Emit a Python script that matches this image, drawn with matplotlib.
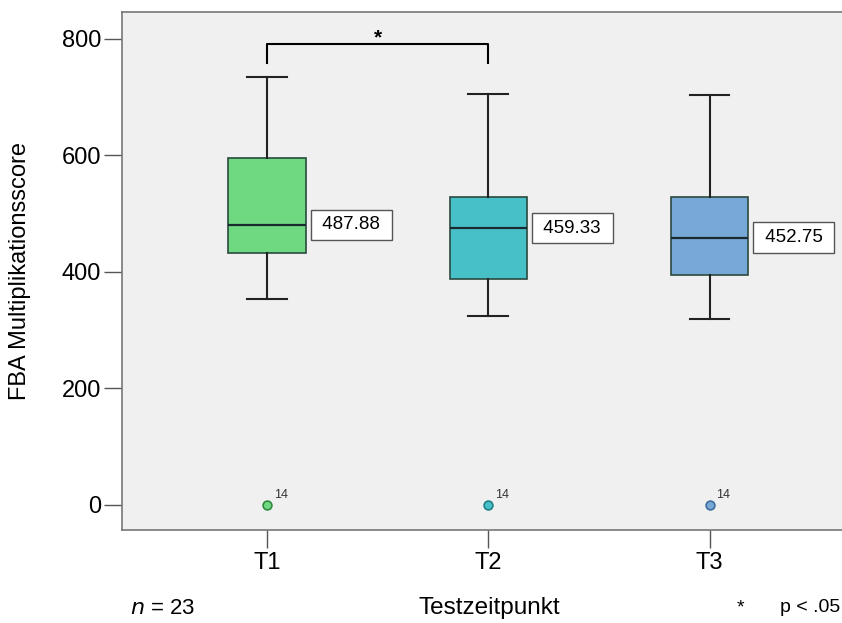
import matplotlib
matplotlib.use("Agg")
import matplotlib.pyplot as plt

plt.rcParams['font.family'] = ['Liberation Sans', 'DejaVu Sans']

# data
zeitpunkte = ["T1", "T2", "T3"]
q1 = [432, 388, 395]
median = [481, 475, 459]
q3 = [596, 528, 528]
whisker_lo = [354, 325, 319]
whisker_hi = [735, 706, 704]
ausreisser = [0, 0, 0]
ausreisser_id = ["14", "14", "14"]
mittelwert_label = ["487.88", "459.33", "452.75"]
farben = ["#6fd982", "#47c1c7", "#78a9d6"]
rand_farben = ["#2f8a40", "#1f7f86", "#3f6e9c"]

fig = plt.figure(figsize=(8.42, 6.23), dpi=100)
ax = fig.add_axes([0.1449, 0.1493, 0.856, 0.8314])
ax.set_facecolor("#f0f0f0")

stats = []
for i in range(3):
    stats.append(dict(med=median[i], q1=q1[i], q3=q3[i],
                      whislo=whisker_lo[i], whishi=whisker_hi[i],
                      fliers=[]))
pos = [1, 2, 3]
bp = ax.bxp(stats, positions=pos, widths=0.35, patch_artist=True,
            showfliers=False,
            medianprops=dict(color="#1a2a30", lw=1.6),
            whiskerprops=dict(color="#222222", lw=1.5),
            capprops=dict(color="#222222", lw=1.5),
            boxprops=dict(lw=1.2))
for patch, c in zip(bp['boxes'], farben):
    patch.set_facecolor(c)
    patch.set_edgecolor("#2a4a40")
for cap in bp['caps']:
    x = cap.get_xdata()
    m = (x[0] + x[1]) / 2
    cap.set_xdata([m - 0.09, m + 0.09])

for i in range(3):
    ax.scatter(pos[i], ausreisser[i], s=40, color=farben[i],
               edgecolor=rand_farben[i], lw=1.2, zorder=3)
    ax.annotate(ausreisser_id[i], (pos[i], ausreisser[i]),
                xytext=(5, 5), textcoords="offset points", fontsize=9,
                color="#333333")
    ax.annotate(" " + mittelwert_label[i] + " ", (pos[i], median[i]),
                xytext=(36, 0), textcoords="offset points", fontsize=13.5,
                va="center", ha="left",
                bbox=dict(boxstyle="square,pad=0.35", fc="white", ec="#555555", lw=1))

# significance bracket T1-T2
ax.plot([1, 1, 2, 2], [759, 791, 791, 759], color="black", lw=1.5)
ax.text(1.5, 802, "*", ha="center", va="center", fontsize=15, fontweight="bold")

ax.set_xlim(0.344, 3.602)
ax.set_ylim(-43, 846)
ax.set_xticks(pos)
ax.set_xticklabels(zeitpunkte, fontsize=17)
ax.set_yticks([0, 200, 400, 600, 800])
ax.tick_params(axis="y", labelsize=17, length=13, width=1, color="#555555", pad=2)
ax.tick_params(axis="x", length=13, width=1, color="#555555", pad=3)
ax.spines['right'].set_visible(False)
for s in ['left', 'top', 'bottom']:
    ax.spines[s].set_color("#777777")
    ax.spines[s].set_linewidth(1.2)

fig.text(20 / 842, 1 - 271 / 623, "FBA Multiplikationsscore", fontsize=17,
         rotation=90, ha="center", va="center")

y_fuss = 1 - 608 / 623
fig.text(163 / 842, y_fuss, "$n$ = 23", fontsize=16, ha="center", va="center")
fig.text(489 / 842, y_fuss, "Testzeitpunkt", fontsize=17.5, ha="center", va="center")
fig.text(740 / 842, y_fuss, "*", fontsize=14, ha="center", va="center")
fig.text(840 / 842, y_fuss, "p < .05", fontsize=14, ha="right", va="center")

fig.savefig("out.png", dpi=100)
